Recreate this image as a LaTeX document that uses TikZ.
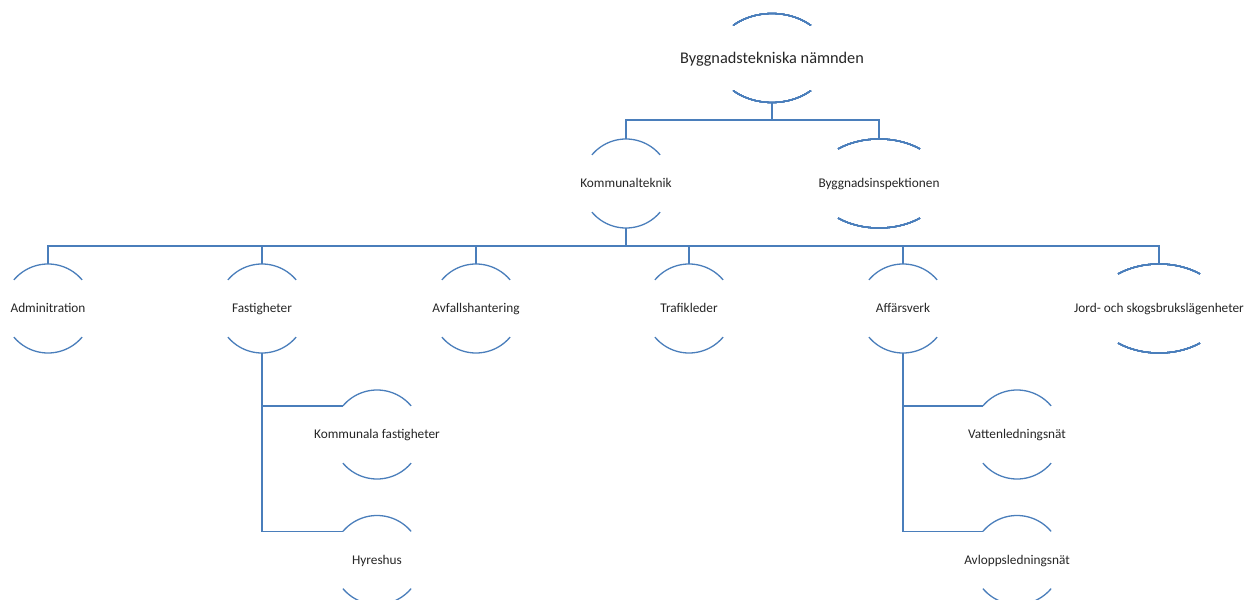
\documentclass[tikz,border=0pt]{standalone}
\usepackage{fontspec}
\setmainfont{Carlito}
\usepackage{tikz}
\definecolor{orgblue}{RGB}{74,126,187}
\newcommand{\unitarcs}[3]{% name, x radius, half angle
  \draw[arcline, shift={(#1.center)}] plot[domain=#3:180-#3, samples=40] ({#2*cos(\x)}, {44.5*sin(\x)});
  \draw[arcline, shift={(#1.center)}] plot[domain=-#3:-180+#3, samples=40] ({#2*cos(\x)}, {44.5*sin(\x)});
  \coordinate (#1-end) at ([shift={(180-#3:#2 and 44.5)}]#1.center);}

\begin{document}
\begin{tikzpicture}
[x=1pt, y=1pt,
 unit/.style={rectangle, inner sep=0pt, minimum width=89pt, minimum height=89pt,
   text height=8.6pt, text depth=0pt,
   text=black!85, font=\fontsize{13.3}{16}\selectfont},
 wideunit/.style={unit, minimum width=130pt},
 rootunit/.style={unit, minimum width=114pt, text height=10.5pt,
   font=\fontsize{16.3}{19}\selectfont},
 arcline/.style={draw=orgblue, line width=1.3pt, line join=round},
 link/.style={draw=orgblue, line width=1.3pt}]
\useasboundingbox (0,0) rectangle (1246,-599);
%% levels
\node[rootunit] (bygg)  at (772,-58)    {Byggnadstekniska nämnden};
\node[unit]     (komm)  at (626,-183.5) {Kommunalteknik};
\node[wideunit] (insp)  at (879,-183.5) {Byggnadsinspektionen};
\node[unit]     (admin) at (48,-308.5)  {Adminitration};
\node[unit]     (fast)  at (262,-308.5) {Fastigheter};
\node[unit]     (avf)   at (476,-308.5) {Avfallshantering};
\node[unit]     (traf)  at (689,-308.5) {Trafikleder};
\node[unit]     (aff)   at (903,-308.5) {Affärsverk};
\node[wideunit] (jord)  at (1159,-308.5) {Jord- och skogsbrukslägenheter};
\node[unit]     (kfast) at (377,-434.5) {Kommunala fastigheter};
\node[unit]     (hyres) at (377,-560)   {Hyreshus};
\node[unit]     (vatt)  at (1017,-434.5) {Vattenledningsnät};
\node[unit]     (avl)   at (1017,-560)  {Avloppsledningsnät};
%% arcs
\foreach \n in {komm,admin,fast,avf,traf,aff,kfast,hyres,vatt,avl}
  \unitarcs{\n}{44.5}{40}
\unitarcs{insp}{65}{51}
\unitarcs{jord}{65}{51}
\unitarcs{bygg}{57}{47}
%% connectors
\coordinate (bus1) at (0,-120);
\coordinate (bus2) at (0,-246);
\draw[link] (bygg.south) -- (bygg.south |- bus1) -| (komm.north);
\draw[link] (bygg.south |- bus1) -| (insp.north);
\draw[link] (komm.south) -- (komm.south |- bus2);
\foreach \n in {admin,fast,avf,traf,aff,jord}
  \draw[link] (komm.south |- bus2) -| (\n.north);
\draw[link] (fast.south) |- (kfast-end);
\draw[link] (fast.south) |- (hyres-end);
\draw[link] (aff.south) |- (vatt-end);
\draw[link] (aff.south) |- (avl-end);
\end{tikzpicture}
\end{document}
